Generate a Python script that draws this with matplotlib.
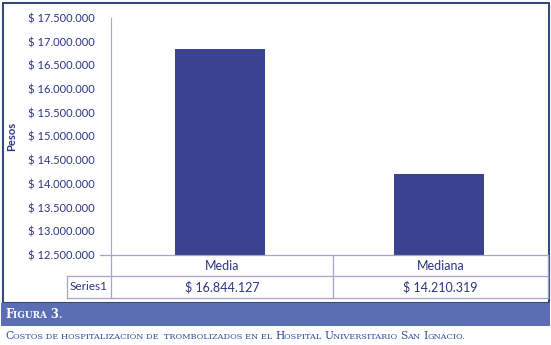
import matplotlib
matplotlib.use("Agg")
import matplotlib.pyplot as plt
from matplotlib.patches import Rectangle
from matplotlib.lines import Line2D

# datos
categorias = ["Media", "Mediana"]
valores = [16844127, 14210319]
etiquetas_valor = ["$ 16.844.127", "$ 14.210.319"]
serie = "Series1"
yticks = [12500000, 13000000, 13500000, 14000000, 14500000,
          15000000, 15500000, 16000000, 16500000, 17000000, 17500000]

W, H = 551, 345
azul_barra = "#3B4290"
azul_texto = "#2D3583"
gris_linea = "#A3A6C6"
azul_marco = "#2F4C7E"
azul_banda = "#5B6DB3"

plt.rcParams["font.family"] = ["Lato", "DejaVu Sans"]

fig = plt.figure(figsize=(W / 100, H / 100), dpi=100)


def fx(px):
    return px / W


def fy(py):
    return 1 - py / H


ax = fig.add_axes([fx(111), fy(255), fx(548) - fx(111), fy(18) - fy(255)])
x = list(range(len(categorias)))
ax.bar(x, valores, width=0.41, color=azul_barra, zorder=2)
ax.set_xlim(-0.5, 1.5)
ax.set_ylim(12500000, 17500000)
ax.set_yticks(yticks)
ax.set_yticklabels(["$ " + f"{v:,}".replace(",", ".") for v in yticks],
                   color=azul_texto, fontsize=8)
ax.tick_params(axis="y", length=0, pad=12)
ax.set_xticks([])
for s in ["top", "right", "bottom"]:
    ax.spines[s].set_visible(False)
ax.spines["left"].set_color(gris_linea)
ax.set_ylabel("Pesos", color=azul_texto, fontsize=8, fontweight="bold", labelpad=6)
ax.yaxis.set_label_coords(-0.215, 0.5)

# tabla de datos
lw = 0.9
lineas = [
    ((100, 548), (255, 255)),
    ((67, 548), (276, 276)),
    ((67, 548), (298, 298)),
    ((111, 111), (255, 298)),
    ((333, 333), (255, 298)),
    ((548, 548), (255, 298)),
    ((67, 67), (276, 298)),
]
for xs, ys in lineas:
    fig.add_artist(Line2D([fx(v) for v in xs], [fy(v) for v in ys],
                          color=gris_linea, lw=lw))

cols = [(111, 333), (333, 548)]
for (a, b), cat, et in zip(cols, categorias, etiquetas_valor):
    fig.text(fx((a + b) / 2), fy(266), cat, ha="center", va="center",
             color=azul_texto, fontsize=9)
    fig.text(fx((a + b) / 2), fy(287), et, ha="center", va="center",
             color=azul_texto, fontsize=9)
fig.text(fx(89), fy(287), serie, ha="center", va="center", color=azul_texto, fontsize=8.5)

# marco y banda
fig.add_artist(Rectangle((fx(3), fy(303)), fx(546), fy(3) - fy(303), fill=False,
                         edgecolor=azul_marco, lw=1.5, transform=fig.transFigure))
fig.add_artist(Rectangle((fx(1), fy(326)), fx(549), fy(303) - fy(326),
                         facecolor=azul_banda, edgecolor="none", transform=fig.transFigure))

renderer = fig.canvas.get_renderer()


def versalitas(x0, y0, texto, grande, chico, color, peso="normal"):
    # texto en versalitas: mayusculas grandes, minusculas como mayusculas chicas
    xp = x0
    trozos = []
    for c in texto:
        es_mayus = c.isupper() or c.isdigit()
        if trozos and trozos[-1][1] == es_mayus:
            trozos[-1][0] += c
        else:
            trozos.append([c, es_mayus])
    for t, es_mayus in trozos:
        size = grande if es_mayus else chico
        txt = fig.text(xp, y0, t.upper(), fontsize=size, color=color,
                       family=["DejaVu Serif"],
                       fontweight=peso, va="baseline", ha="left")
        bb = txt.get_window_extent(renderer)
        xp += bb.width / W


versalitas(fx(5), fy(318), "Figura 3.", 8.3, 6.4, "white", "bold")
versalitas(fx(5), fy(339), "Costos de hospitalización de  trombolizados en el Hospital Universitario San Ignacio.",
           7.7, 5.9, "#2E4C9E")

fig.savefig("out.png", dpi=100)
